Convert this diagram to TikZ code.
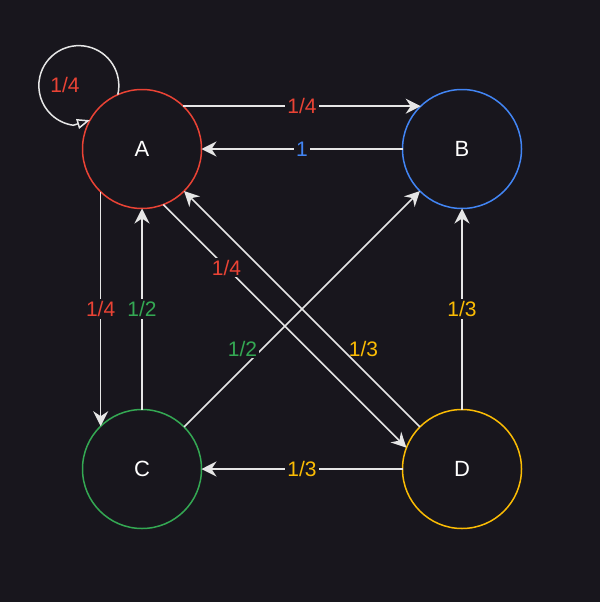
\documentclass[tikz,border=0pt]{standalone}
\usepackage{fontspec}
\setmainfont{Liberation Sans}
\usetikzlibrary{arrows.meta}
\definecolor{bg}{HTML}{18161D}
\definecolor{edgegray}{HTML}{E6E6E6}
\definecolor{redA}{HTML}{EA4335}
\definecolor{blueB}{HTML}{4285F4}
\definecolor{greenC}{HTML}{34A853}
\definecolor{yellowD}{HTML}{FBBC04}
\tikzstyle{state} = [circle, 
minimum size=119pt, 
inner sep=0pt, outer sep=0pt, 
line width=1.5pt, 
text=white, 
font=\fontsize{22}{26}\selectfont]
\tikzstyle{stateA} = [state, draw=redA]
\tikzstyle{stateB} = [state, draw=blueB]
\tikzstyle{stateC} = [state, draw=greenC]
\tikzstyle{stateD} = [state, draw=yellowD]
\tikzstyle{prob} = [font=\fontsize{21}{25}\selectfont, 
fill=bg, inner sep=2pt]
\tikzstyle{arrow} = [line width=1.5pt, draw=edgegray, 
-{Stealth[length=15pt,width=15pt,inset=5pt]}]
\tikzstyle{selfloop} = [line width=1.5pt, draw=edgegray, 
-{Triangle[open,length=13pt,width=10pt]}]

\begin{document}
\begin{tikzpicture}[x=1pt, y=-1pt, node distance=320pt]

\fill [bg] (0,0) rectangle (600,602);
\useasboundingbox (0,0) rectangle (600,602);

\node (A) [stateA] at (142,149) {A};
\node (B) [stateB, right of=A] {B};
\node (C) [stateC, below of=A] {C};
\node (D) [stateD, right of=C] {D};

% A stays in A
\draw [selfloop] (A.114) arc[start angle=13, end angle=-262, radius=40] -- (A.151);
\node (loopA) [prob, fill=none, text=redA] at (65,85) {1/4};

\draw [arrow] (A.46) -- node[prob, text=redA] {1/4} (B.134);
\draw [arrow] (B) -- node[prob, text=blueB] {1} (A);

\draw [arrow] (A.226) -- node[prob, text=redA] {1/4} (C.134);
\draw [arrow] (C) -- node[prob, text=greenC] {1/2} (A);

\draw [arrow] (A.-69) -- node[prob, pos=0.26, text=redA] {1/4} (D.159);
\draw [arrow] (D) -- node[prob, fill=none, pos=0.29, xshift=12pt, yshift=10pt, text=yellowD] {1/3} (A);

\draw [arrow] (C) -- node[prob, pos=0.29, xshift=-10pt, yshift=10pt, text=greenC] {1/2} (B);

\draw [arrow] (D) -- node[prob, text=yellowD] {1/3} (B);
\draw [arrow] (D) -- node[prob, text=yellowD] {1/3} (C);

\end{tikzpicture}
\end{document}
